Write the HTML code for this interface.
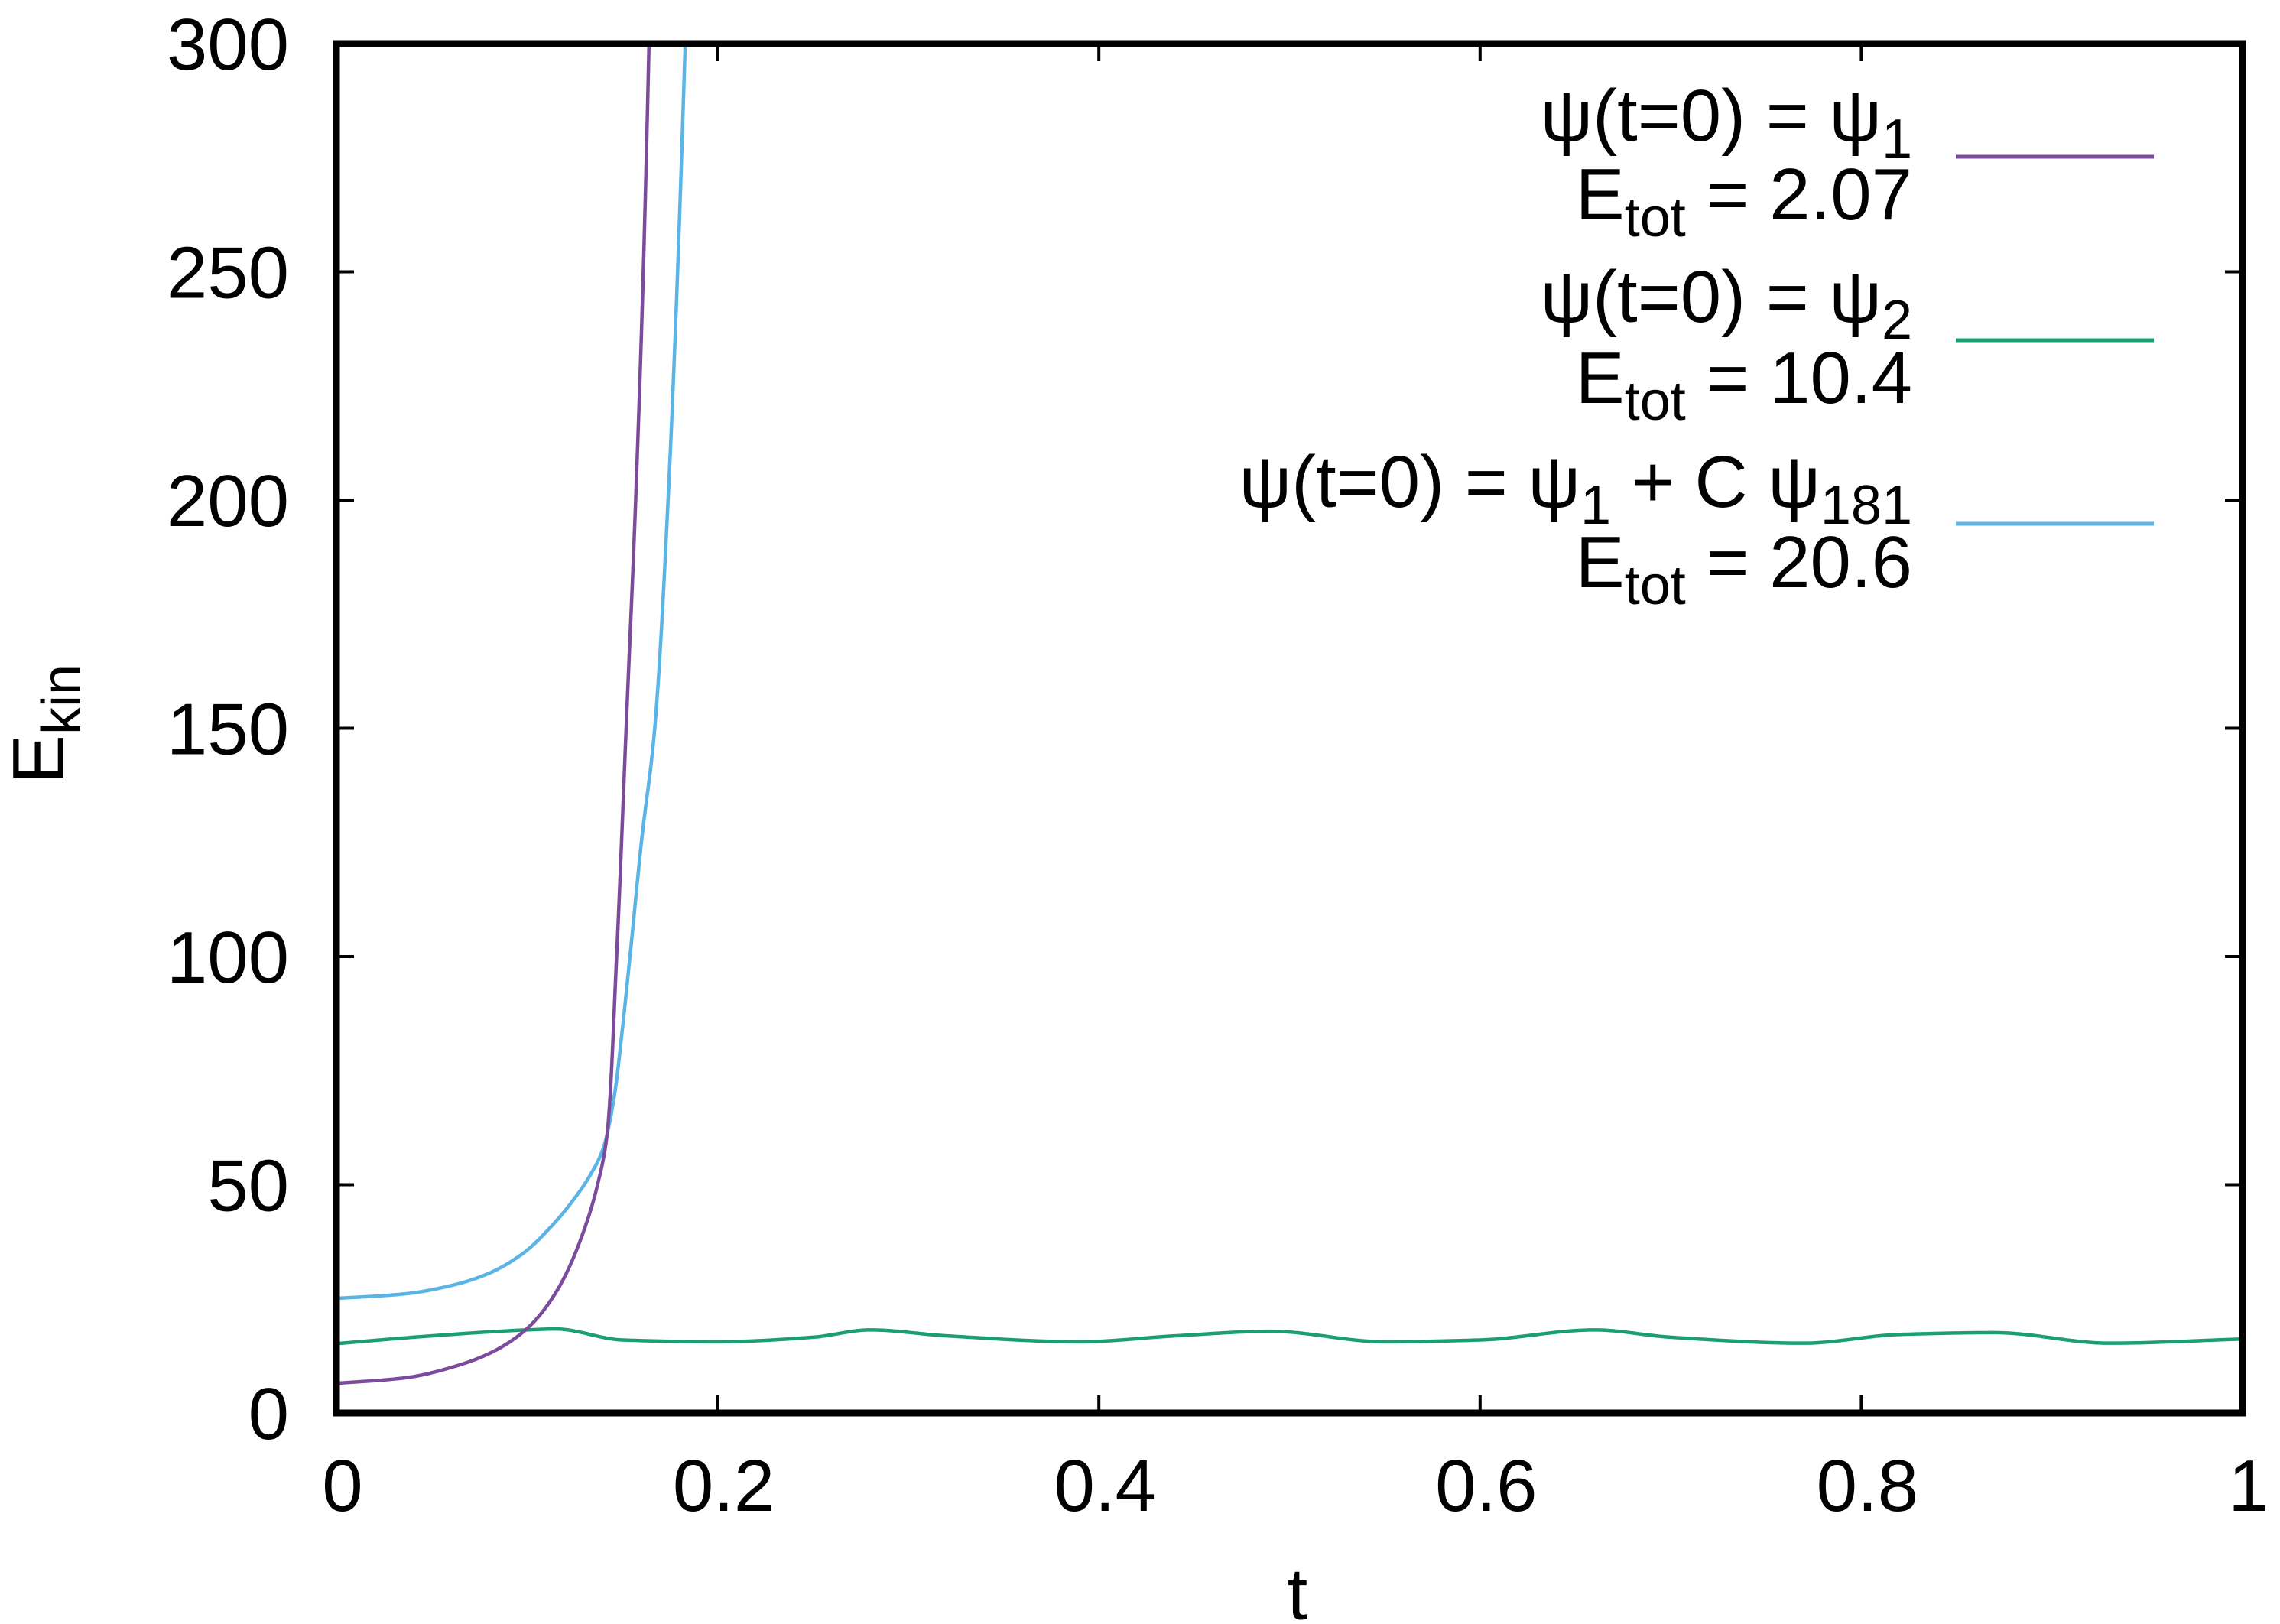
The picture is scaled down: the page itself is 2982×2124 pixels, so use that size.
<!DOCTYPE html>
<html><head><meta charset="utf-8"><style>
html,body{margin:0;padding:0;background:#fff;}
svg{display:block;font-family:"Liberation Sans",sans-serif;}
</style></head><body>
<svg id="chart" width="2982" height="2124" viewBox="0 0 2982 2124" xmlns="http://www.w3.org/2000/svg">
<rect x="0" y="0" width="2982" height="2124" fill="#fff"/>
<defs><clipPath id="plotclip"><rect x="440" y="57" width="2493" height="1791"/></clipPath></defs>
<g id="ticks"></g>
<g id="curves" clip-path="url(#plotclip)"></g>
<rect x="440" y="57" width="2493" height="1791" fill="none" stroke="#000" stroke-width="9"/>
<g id="labels" font-size="96" fill="#000"></g>
<text x="1697" y="2118" font-size="96" text-anchor="middle">t</text>
<text transform="translate(83,1025) rotate(-90)" font-size="96">E<tspan font-size="72" dy="22">kin</tspan></text>
<g font-size="96" text-anchor="end">
 <text x="2501" y="184">ψ(t=0) = ψ<tspan font-size="72" dy="22">1</tspan></text>
 <text x="2501" y="287">E<tspan font-size="72" dy="22">tot</tspan><tspan dy="-22">  = 2.07</tspan></text>
 <line x1="2558" y1="205" x2="2817" y2="205" stroke="#7d4b9c" stroke-width="5"/>
 <text x="2501" y="421">ψ(t=0) = ψ<tspan font-size="72" dy="22">2</tspan></text>
 <text x="2501" y="527">E<tspan font-size="72" dy="22">tot</tspan><tspan dy="-22">  = 10.4</tspan></text>
 <line x1="2558" y1="445" x2="2817" y2="445" stroke="#1a9e72" stroke-width="5"/>
 <text x="2501" y="663">ψ(t=0) = ψ<tspan font-size="72" dy="22">1</tspan><tspan dy="-22"> + C ψ</tspan><tspan font-size="72" dy="22">181</tspan></text>
 <text x="2501" y="768">E<tspan font-size="72" dy="22">tot</tspan><tspan dy="-22">  = 20.6</tspan></text>
 <line x1="2558" y1="685" x2="2817" y2="685" stroke="#5ab4e5" stroke-width="5"/>
</g>
</svg>
<script>
const xTicks = [0, 0.2, 0.4, 0.6, 0.8, 1];
const xTickLabels = ["0", "0.2", "0.4", "0.6", "0.8", "1"];
const yTicks = [0, 50, 100, 150, 200, 250, 300];
const yTickLabels = ["0", "50", "100", "150", "200", "250", "300"];
const psi1T = [0, 0.036, 0.062, 0.08, 0.1, 0.116, 0.129, 0.137, 0.142, 0.147, 0.152, 0.157, 0.161, 0.164, 0.166];
const psi1E = [6.5, 7.7, 10.2, 13, 18.5, 27, 39, 50, 61, 100, 150, 200, 250, 300, 340];
const psi2T = [0, 0.05, 0.1, 0.115, 0.15, 0.2, 0.25, 0.28, 0.32, 0.39, 0.44, 0.49, 0.55, 0.6, 0.66, 0.7, 0.77, 0.82, 0.87, 0.93, 1.0];
const psi2E = [15.2, 16.9, 18.2, 18.4, 16, 15.6, 16.6, 18.2, 16.9, 15.6, 16.9, 17.9, 15.6, 16, 18.2, 16.6, 15.3, 17.2, 17.6, 15.3, 16.2];
const supT = [0, 0.036, 0.062, 0.08, 0.098, 0.113, 0.124, 0.133, 0.140, 0.146, 0.150, 0.154, 0.160, 0.167, 0.174, 0.179, 0.183, 0.186];
const supE = [25.1, 26.1, 28.1, 30.6, 35, 41, 46.5, 52, 58, 70, 84, 100, 125, 150, 200, 250, 300, 340];

const X0 = 440, X1 = 2933, Y0 = 1848, Y1 = 57;
function sx(t){ return X0 + (t - 0) / (1 - 0) * (X1 - X0); }
function sy(e){ return Y0 + (e - 0) / (300 - 0) * (Y1 - Y0); }
const NS = "http://www.w3.org/2000/svg";

const tg = document.getElementById('ticks');
const lg = document.getElementById('labels');
xTicks.forEach((v, i) => {
  const x = sx(v);
  [[Y0, Y0 - 23], [Y1, Y1 + 23]].forEach(([a, b], k) => {
    const l = document.createElementNS(NS, 'line');
    l.setAttribute('x1', x); l.setAttribute('x2', x);
    l.setAttribute('y1', a); l.setAttribute('y2', b);
    l.setAttribute('stroke', '#000'); l.setAttribute('stroke-width', '4');
    
    
    tg.appendChild(l);
  });
  const tx = document.createElementNS(NS, 'text');
  tx.setAttribute('x', x + 8); tx.setAttribute('y', 1976);
  tx.setAttribute('text-anchor', 'middle');
  tx.textContent = xTickLabels[i];
  
  
  lg.appendChild(tx);
});
yTicks.forEach((v, i) => {
  const y = sy(v);
  [[X0, X0 + 23], [X1, X1 - 23]].forEach(([a, b], k) => {
    const l = document.createElementNS(NS, 'line');
    l.setAttribute('x1', a); l.setAttribute('x2', b);
    l.setAttribute('y1', y); l.setAttribute('y2', y);
    l.setAttribute('stroke', '#000'); l.setAttribute('stroke-width', '4');
    
    
    tg.appendChild(l);
  });
  const tx = document.createElementNS(NS, 'text');
  tx.setAttribute('x', 378); tx.setAttribute('y', y + 34);
  tx.setAttribute('text-anchor', 'end');
  tx.textContent = yTickLabels[i];
  
  
  lg.appendChild(tx);
});

// monotone cubic (Fritsch-Carlson) interpolation; optionally in log space
function monotonePath(ts, esRaw, useLog){
  const es = useLog ? esRaw.map(v => Math.log(v)) : esRaw.slice();
  const n = ts.length;
  const d = [], m = new Array(n);
  for (let i = 0; i < n - 1; i++) d.push((es[i+1] - es[i]) / (ts[i+1] - ts[i]));
  m[0] = d[0]; m[n-1] = d[n-2];
  for (let i = 1; i < n - 1; i++){
    if (d[i-1] * d[i] <= 0) m[i] = 0;
    else {
      const h0 = ts[i] - ts[i-1], h1 = ts[i+1] - ts[i];
      const w1 = 2*h1 + h0, w2 = h1 + 2*h0;
      m[i] = (w1 + w2) / (w1 / d[i-1] + w2 / d[i]);
    }
  }
  const f = v => useLog ? Math.exp(v) : v;
  let path = 'M' + sx(ts[0]).toFixed(2) + ',' + sy(f(es[0])).toFixed(2);
  for (let i = 0; i < n - 1; i++){
    const h = ts[i+1] - ts[i];
    for (let k = 1; k <= 24; k++){
      const s = k / 24;
      const h00 = 2*s*s*s - 3*s*s + 1, h10 = s*s*s - 2*s*s + s, h01 = -2*s*s*s + 3*s*s, h11 = s*s*s - s*s;
      const e = h00*es[i] + h10*h*m[i] + h01*es[i+1] + h11*h*m[i+1];
      path += ' L' + sx(ts[i] + s*h).toFixed(2) + ',' + sy(f(e)).toFixed(2);
    }
  }
  return path;
}
const cg = document.getElementById('curves');
[[psi2T, psi2E, '#1a9e72', 'series-psi2', false], [supT, supE, '#5ab4e5', 'series-superposition', true], [psi1T, psi1E, '#7d4b9c', 'series-psi1', true]].forEach(s => {
  const path = document.createElementNS(NS, 'path');
  path.setAttribute('d', monotonePath(s[0], s[1], s[4]));
  path.setAttribute('fill', 'none');
  path.setAttribute('stroke', s[2]);
  path.setAttribute('stroke-width', '4.5');
  path.setAttribute('stroke-linejoin', 'round');
  
  
  cg.appendChild(path);
});
</script>
</body></html>
